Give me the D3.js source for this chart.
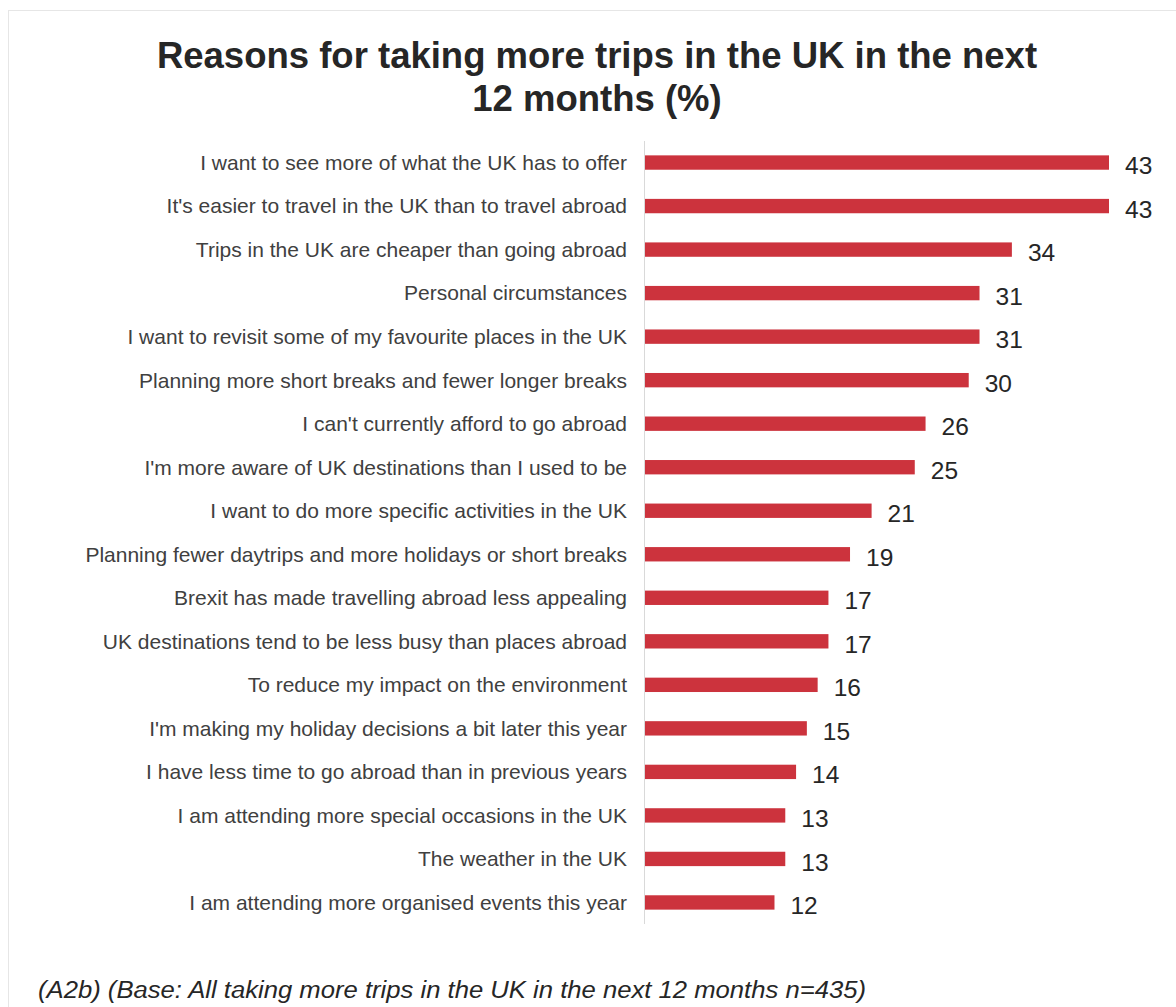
<!DOCTYPE html>
<html lang="en">
<head>
<meta charset="utf-8">
<title>Reasons for taking more trips in the UK</title>
<script src="https://d3js.org/d3.v7.min.js"></script>
<style>
* { margin: 0; padding: 0; }
body { background: #fff; font-family: 'Liberation Sans', Arial, sans-serif; }
</style>
</head>
<body>
<script>
// chart data
let reasons = [
  "I want to see more of what the UK has to offer",
  "It's easier to travel in the UK than to travel abroad",
  "Trips in the UK are cheaper than going abroad",
  "Personal circumstances ",
  "I want to revisit some of my favourite places in the UK",
  "Planning more short breaks and fewer longer breaks",
  "I can't currently afford to go abroad",
  "I'm more aware of UK destinations than I used to be",
  "I want to do more specific activities in the UK",
  "Planning fewer daytrips and more holidays or short breaks",
  "Brexit has made travelling abroad less appealing",
  "UK destinations tend to be less busy than places abroad",
  "To reduce my impact on the environment",
  "I'm making my holiday decisions a bit later this year",
  "I have less time to go abroad than in previous years",
  "I am attending more special occasions in the UK ",
  "The weather in the UK",
  "I am attending more organised events this year "
];
let percents = [43, 43, 34, 31, 31, 30, 26, 25, 21, 19, 17, 17, 16, 15, 14, 13, 13, 12];
let titleLines = ["Reasons for taking more trips in the UK in the next", "12 months (%)"];
let footnote = "(A2b) (Base: All taking more trips in the UK in the next 12 months n=435)";

let w = 1176, h = 1007;
let plotLeft = 644, plotTop = 141, rowsH = 783;

let svg = d3.select("body").append("svg")
  .attr("width", w)
  .attr("height", h);

// light frame round the chart
svg.append("rect")
  .attr("x", 8.5).attr("y", 10.5)
  .attr("width", w).attr("height", h)
  .attr("fill", "none")
  .attr("stroke", "#e6e6e6");

svg.append("g").selectAll("text")
  .data(titleLines)
  .enter().append("text")
  .attr("x", 597)
  .attr("y", (d, i) => 68 + i * 43)
  .attr("text-anchor", "middle")
  .attr("font-size", 36.5)
  .attr("font-weight", "bold")
  .attr("fill", "#262626")
  .text(d => d);

let x = d3.scaleLinear().domain([0, 43]).range([plotLeft, 1108]);
let y = d3.scaleBand().domain(reasons).range([plotTop, plotTop + rowsH]).paddingInner(0.67).paddingOuter(0.33);

// vertical axis line
svg.append("line")
  .attr("x1", plotLeft + 0.5).attr("x2", plotLeft + 0.5)
  .attr("y1", plotTop).attr("y2", plotTop + rowsH)
  .attr("stroke", "#d9d9d9");

svg.append("g").selectAll("rect")
  .data(percents)
  .enter().append("rect")
  .attr("x", x(0) + 1)
  .attr("y", (d, i) => y(reasons[i]))
  .attr("width", d => x(d) - x(0))
  .attr("height", y.bandwidth())
  .attr("fill", "#cc333d");

svg.append("g").selectAll("text")
  .data(reasons)
  .enter().append("text")
  .attr("x", 627)
  .attr("y", d => y(d) + y.bandwidth() / 2)
  .attr("dy", "0.35em")
  .attr("text-anchor", "end")
  .attr("font-size", 21)
  .attr("fill", "#404040")
  .text(d => d);

svg.append("g").selectAll("text")
  .data(percents)
  .enter().append("text")
  .attr("x", d => x(d) + 17)
  .attr("y", (d, i) => y(reasons[i]) + y.bandwidth() / 2 + 3)
  .attr("dy", "0.35em")
  .attr("font-size", 24.5)
  .attr("fill", "#262626")
  .text(d => d);

svg.append("text")
  .attr("x", 38)
  .attr("y", 998)
  .attr("font-size", 23)
  .attr("font-style", "italic")
  .attr("fill", "#262626")
  .attr("textLength", 828)
  .attr("lengthAdjust", "spacingAndGlyphs")
  .text(footnote);
</script>
</body>
</html>
